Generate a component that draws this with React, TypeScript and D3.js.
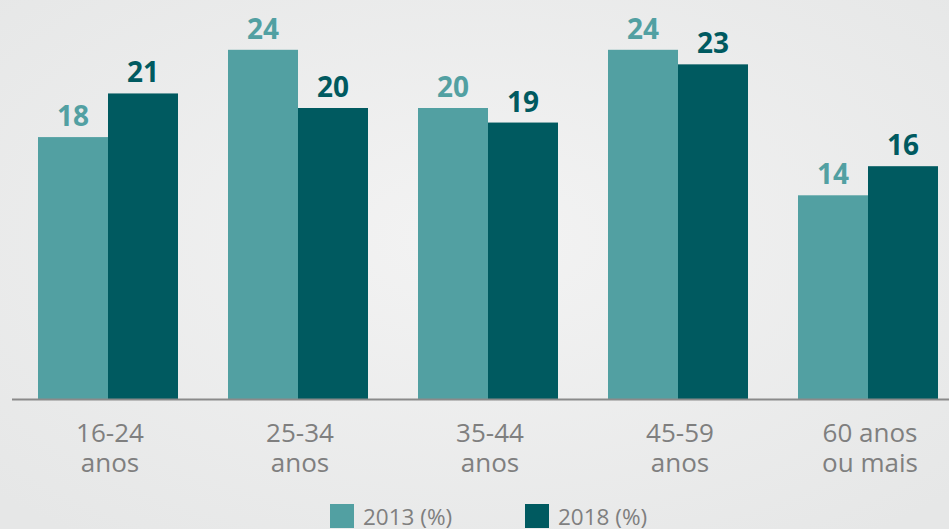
import React from "react";
import * as d3 from "d3";

const categories = ["16-24|anos", "25-34|anos", "35-44|anos", "45-59|anos", "60 anos|ou mais"];
const series2013 = [18, 24, 20, 24, 14];
const series2018 = [21, 20, 19, 23, 16];
const seriesNames = ["2013 (%)", "2018 (%)"];

const W = 949;
const H = 529;
const colors = ["#52a0a2", "#005a60"];
const gray = "#7f7f7f";
const font = "'Open Sans', 'DejaVu Sans', sans-serif";

export default function App() {
  const x0 = d3.scaleBand<number>().domain(d3.range(categories.length)).range([13, 963]).paddingInner(50 / 190).paddingOuter(25 / 190);
  const x1 = d3.scaleBand<number>().domain([0, 1]).range([0, x0.bandwidth()]);
  const y = d3.scaleLinear().domain([0, 24]).range([399, 49.8]);
  const seriesData = [series2013, series2018];

  return (
    <svg width={W} height={H} style={{ position: "absolute", left: 0, top: 0 }}>
      <defs>
        <radialGradient id="bg" cx="0.5" cy="0.45" r="0.7">
          <stop offset="0" stopColor="#f3f3f3" />
          <stop offset="1" stopColor="#e6e7e7" />
        </radialGradient>
      </defs>
      <rect x={0} y={0} width={W} height={H} fill="url(#bg)" />
      {categories.map((c, i) => (
        <g key={c} transform={`translate(${x0(i)},0)`}>
          {seriesData.map((s, j) => (
            <g key={j}>
              <rect x={x1(j)} y={y(s[i])} width={x1.bandwidth()} height={y(0) - y(s[i])} fill={colors[j]} />
              <text
                x={(x1(j) as number) + x1.bandwidth() / 2}
                y={y(s[i]) - 11}
                textAnchor="middle"
                fontFamily={font}
                fontWeight={700}
                fontSize={28}
                fill={colors[j]}
              >
                {s[i]}
              </text>
            </g>
          ))}
          {c.split("|").map((line, k) => (
            <text
              key={k}
              x={x0.bandwidth() / 2 + 2}
              y={442 + k * 30}
              textAnchor="middle"
              fontFamily={font}
              fontSize={26}
              fill={gray}
            >
              {line}
            </text>
          ))}
        </g>
      ))}
      <line x1={12} x2={W} y1={399.5} y2={399.5} stroke="#8a8a8a" strokeWidth={2} />
      {seriesNames.map((n, j) => (
        <g key={n} transform={`translate(${330 + j * 195},504)`}>
          <rect x={0} y={0} width={24} height={24} fill={colors[j]} />
          <text x={33} y={21} fontFamily={font} fontSize={22.5} fill={gray}>
            {n}
          </text>
        </g>
      ))}
    </svg>
  );
}
